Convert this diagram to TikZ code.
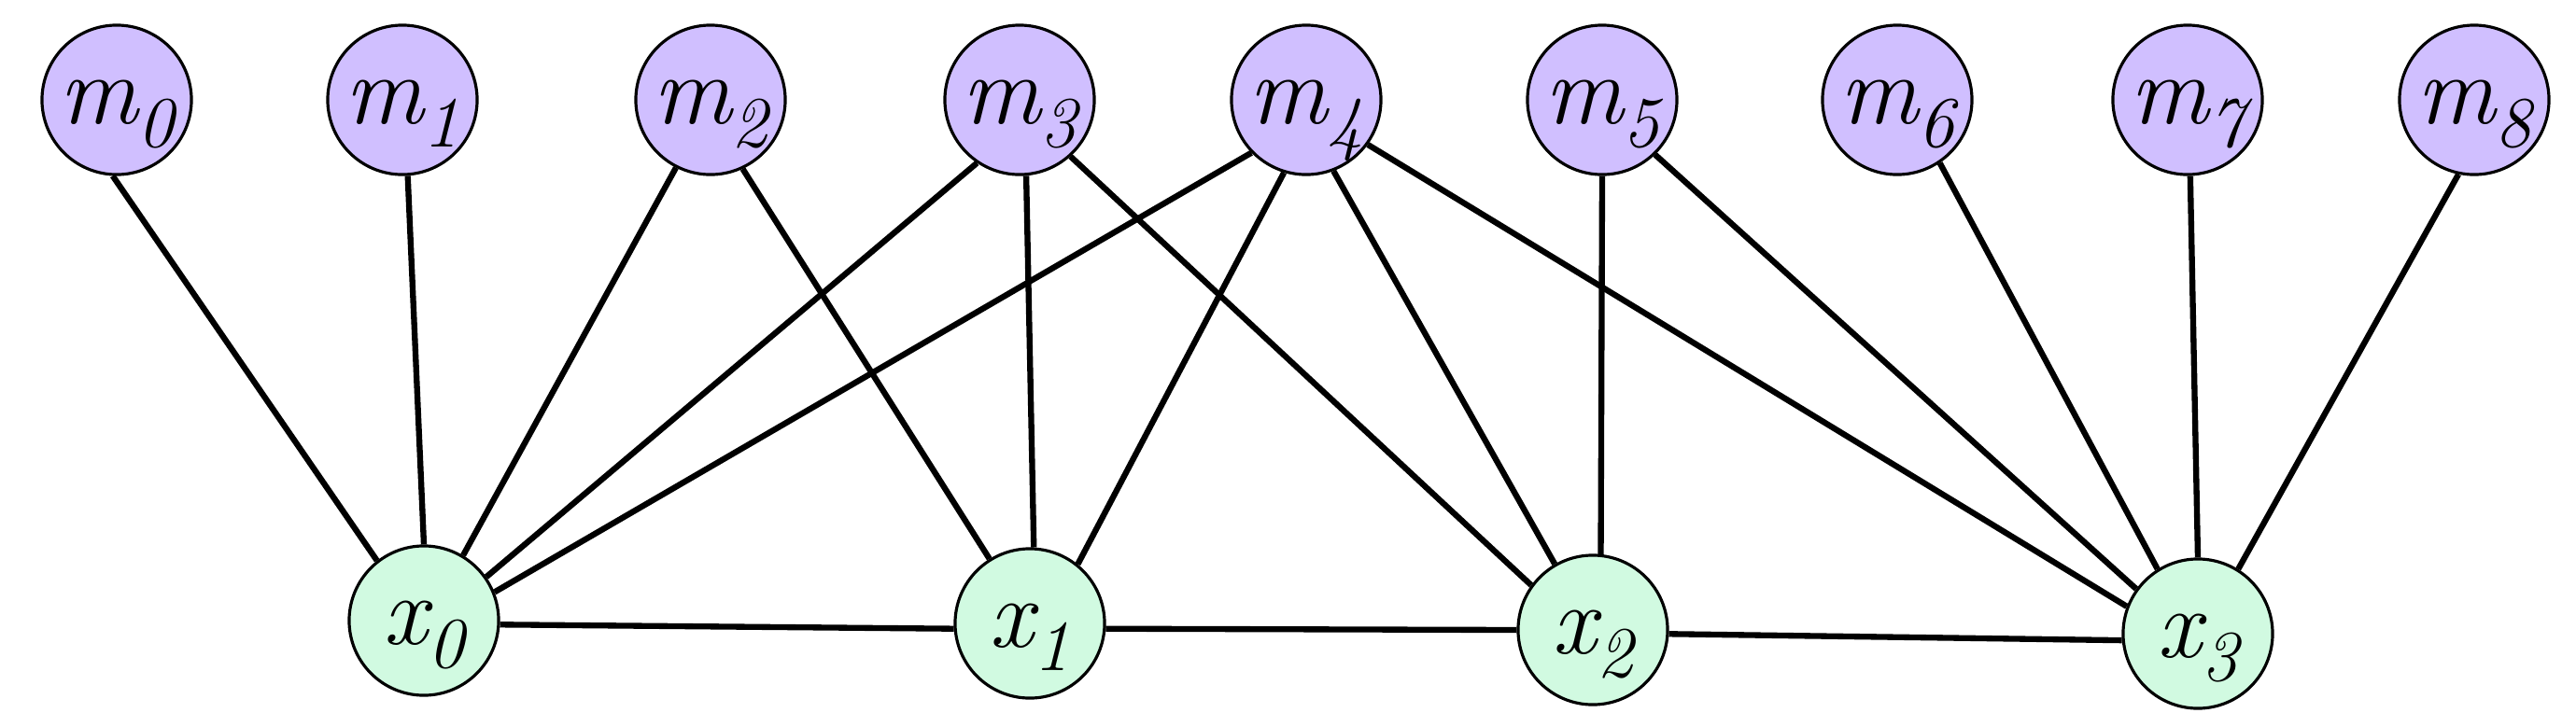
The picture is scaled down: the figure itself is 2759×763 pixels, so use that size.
\documentclass[tikz,border=0pt]{standalone}
\usepackage{fontspec}
\definecolor{mfill}{RGB}{208,191,255}
\definecolor{xfill}{RGB}{209,250,225}
\newcommand{\lbl}[2]{\fontsize{30pt}{30pt}\selectfont\itshape #1\raisebox{-0.25cm}{\fontsize{22pt}{22pt}\selectfont\itshape #2}}
\begin{document}
\begin{tikzpicture}[x=0.01cm,y=-0.01cm,
  vtx/.style={circle,draw=black,line width=0.9pt,minimum size=1.6cm,inner sep=0pt,text height=0.5cm,text depth=0cm},
  mnode/.style={vtx,fill=mfill},
  xnode/.style={vtx,fill=xfill},
  edge/.style={draw=black,line width=1.8pt}]
\useasboundingbox (0,0) rectangle (2759,763);
\node[mnode] (m0) at (125,107) {\lbl{m}{0}};
\node[mnode] (m1) at (431,107) {\lbl{m}{1}};
\node[mnode] (m2) at (761,107) {\lbl{m}{2}};
\node[mnode] (m3) at (1092,107) {\lbl{m}{3}};
\node[mnode] (m4) at (1399,107) {\lbl{m}{4}};
\node[mnode] (m5) at (1716,107) {\lbl{m}{5}};
\node[mnode] (m6) at (2032,107) {\lbl{m}{6}};
\node[mnode] (m7) at (2343,107) {\lbl{m}{7}};
\node[mnode] (m8) at (2650,107) {\lbl{m}{8}};
\node[xnode] (x0) at (454,665) {\lbl{x}{0}};
\node[xnode] (x1) at (1103,668) {\lbl{x}{1}};
\node[xnode] (x2) at (1706,675) {\lbl{x}{2}};
\node[xnode] (x3) at (2354,679) {\lbl{x}{3}};
\draw[edge] (m0.-93) -- (x0.128);
\draw[edge] (m1.-86) -- (x0.90);
\draw[edge] (m2.-117) -- (x0.59);
\draw[edge] (m3.-124) -- (x0.35);
\draw[edge] (m4.-136) -- (x0.22);
\draw[edge] (m2.-65) -- (x1.122);
\draw[edge] (m3.-85) -- (x1.87);
\draw[edge] (m4.-107) -- (x1.51);
\draw[edge] (m3.-48) -- (x2.144);
\draw[edge] (m4.-69) -- (x2.120);
\draw[edge] (m5.-90) -- (x2.84);
\draw[edge] (m4.-36) -- (x3.159);
\draw[edge] (m5.-46) -- (x3.144);
\draw[edge] (m6.-56) -- (x3.122);
\draw[edge] (m7.-88) -- (x3.90);
\draw[edge] (m8.-102) -- (x3.58);
\draw[edge] (x0.-3) -- (x1.184);
\draw[edge] (x1.-4) -- (x2.180);
\draw[edge] (x2.-3) -- (x3.185);
\end{tikzpicture}
\end{document}
